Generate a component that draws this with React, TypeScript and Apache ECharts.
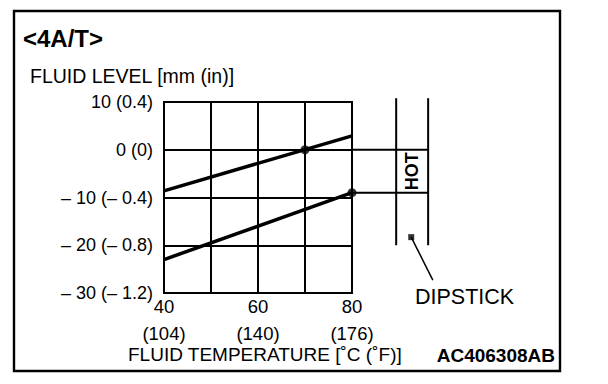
import React, { useEffect, useRef } from "react";
import * as echarts from "echarts";

// Axis ticks and labels
const tempTicksC = [40, 50, 60, 70, 80];
const tempTicksF = ["104", "", "140", "", "176"];
const levelTicks = [10, 0, -10, -20, -30];
const levelLabels = ["10 (0.4)", "0 (0)", "– 10 (– 0.4)", "– 20 (– 0.8)", "– 30 (– 1.2)"];

// Series values [°C, mm]
const upperLine = [[40, -8.6], [80, 2.9]];
const lowerLine = [[40, -23], [80, -9]];
const checkPoints = [[70, 0], [80, -9]];

// Dipstick drawing in data units
const hotLevels = [0, -9];
const dipstickX = [89.4, 96.2];
const dipstickRange = [10.8, -20];
const dipstickMark = [92.6, -18.3];
const leaderEnd = [97.2, -27.3];

const FONT = "'Liberation Sans', Arial, Helvetica, sans-serif";

export default function App() {
  const ref = useRef<HTMLDivElement>(null);
  useEffect(() => {
    if (!ref.current) return;
    const chart = echarts.init(ref.current, null, { renderer: "svg" });
    const black = "#000";
    const option: any = {
      animation: false,
      backgroundColor: "#fff",
      textStyle: { fontFamily: FONT },
      grid: {
        left: 164,
        top: 102,
        width: 188,
        height: 191,
        show: true,
        borderColor: black,
        borderWidth: 2,
        backgroundColor: "transparent",
      },
      xAxis: {
        type: "value",
        min: 40,
        max: 80,
        interval: 10,
        axisLine: { show: false },
        axisTick: { show: false },
        splitLine: { show: true, lineStyle: { color: black, width: 2 } },
        axisLabel: {
          margin: 0,
          color: black,
          fontSize: 18.5,
          fontFamily: FONT,
          lineHeight: 27,
          formatter: (v: number) => {
            const i = tempTicksC.indexOf(v);
            if (i < 0 || !tempTicksF[i]) return "";
            return `${v}\n(${tempTicksF[i]})`;
          },
        },
      },
      yAxis: {
        type: "value",
        min: -30,
        max: 10,
        interval: 10,
        axisLine: { show: false },
        axisTick: { show: false },
        splitLine: { show: true, lineStyle: { color: black, width: 2 } },
        axisLabel: {
          margin: 11,
          color: black,
          fontSize: 18,
          fontFamily: FONT,
          padding: [5, 0, 0, 0],
          formatter: (v: number) => {
            const i = levelTicks.indexOf(v);
            return i < 0 ? "" : levelLabels[i];
          },
        },
      },
      series: [
        { type: "line", data: upperLine, symbol: "none", lineStyle: { color: black, width: 3.5 }, z: 3 },
        { type: "line", data: lowerLine, symbol: "none", lineStyle: { color: black, width: 3.5 }, z: 3 },
        {
          type: "scatter",
          data: checkPoints,
          symbol: "circle",
          symbolSize: 9,
          itemStyle: { color: black },
          clip: false,
          z: 4,
        },
        {
          type: "scatter",
          data: [dipstickMark],
          symbol: "rect",
          symbolSize: 6,
          itemStyle: { color: black },
          clip: false,
          z: 4,
        },
      ],
    };
    chart.setOption(option);

    const px = (p: number[]) => chart.convertToPixel({ gridIndex: 0 }, p) as number[];
    const seg = (a: number[], b: number[], w: number) => {
      const pa = px(a);
      const pb = px(b);
      return {
        type: "line",
        shape: { x1: pa[0], y1: pa[1], x2: pb[0], y2: pb[1] },
        style: { stroke: black, lineWidth: w },
        z: 5,
      };
    };
    const hotCenter = px([(dipstickX[0] + dipstickX[1]) / 2, (hotLevels[0] + hotLevels[1]) / 2]);

    chart.setOption({
      graphic: [
        {
          type: "rect",
          shape: { x: 14, y: 11, width: 546, height: 360 },
          style: { fill: "none", stroke: black, lineWidth: 2.4 },
          z: 10,
        },
        ...hotLevels.map((lv) => seg([80, lv], [dipstickX[1], lv], 2)),
        ...dipstickX.map((x) => seg([x, dipstickRange[0]], [x, dipstickRange[1]], 2)),
        seg(dipstickMark, leaderEnd, 1.5),
        {
          type: "text",
          x: 23,
          y: 38,
          style: { text: "<4A/T>", font: `bold 24px ${FONT}`, fill: black, textVerticalAlign: "middle" },
        },
        {
          type: "text",
          x: 30,
          y: 76,
          style: { text: "FLUID LEVEL [mm (in)]", font: `19.5px ${FONT}`, fill: black, textVerticalAlign: "middle" },
        },
        {
          type: "text",
          x: 128,
          y: 354,
          style: { text: "FLUID TEMPERATURE [˚C (˚F)]", font: `19px ${FONT}`, fill: black, textVerticalAlign: "middle" },
        },
        {
          type: "text",
          x: 555,
          y: 355,
          style: { text: "AC406308AB", font: `bold 19px ${FONT}`, fill: black, textAlign: "right", textVerticalAlign: "middle" },
        },
        {
          type: "text",
          x: 415,
          y: 297,
          style: { text: "DIPSTICK", font: `21.5px ${FONT}`, fill: black, textVerticalAlign: "middle" },
        },
        {
          type: "text",
          x: hotCenter[0],
          y: hotCenter[1],
          rotation: Math.PI / 2,
          style: { text: "HOT", font: `bold 18px ${FONT}`, fill: black, textAlign: "center", textVerticalAlign: "middle" },
        },
      ],
    });
    return () => chart.dispose();
  }, []);
  return <div ref={ref} style={{ position: "absolute", left: 0, top: 0, width: 608, height: 384 }} />;
}
